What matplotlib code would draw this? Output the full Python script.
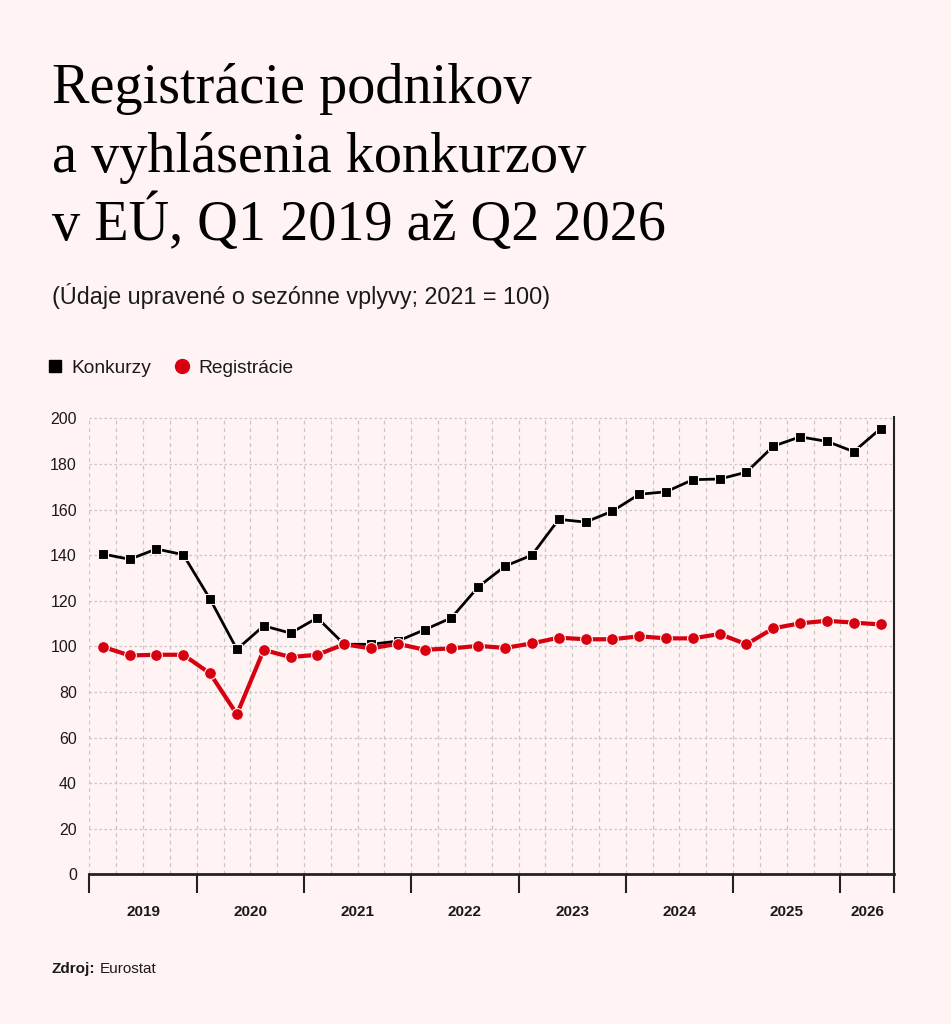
import matplotlib
matplotlib.use("Agg")
import matplotlib.pyplot as plt
from matplotlib.lines import Line2D
import numpy as np

# ---- data ----
quarters = [f"Q{q} {y}" for y in range(2019, 2027) for q in range(1, 5)][:30]
konkurzy = [140.5, 138.2, 142.7, 140.2, 120.7, 98.7, 109.0, 105.8,
            112.5, 100.9, 100.9, 102.3, 107.3, 112.5, 126.1, 135.2,
            140.0, 155.7, 154.5, 159.3, 166.7, 167.8, 173.1, 173.4,
            176.4, 187.8, 191.9, 189.9, 185.4, 195.5]
registracie = [99.8, 96.0, 96.3, 96.3, 88.1, 70.2, 98.4, 95.3,
               96.3, 100.9, 99.1, 101.1, 98.5, 99.1, 100.2, 99.3,
               101.3, 103.8, 103.1, 103.1, 104.4, 103.5, 103.5, 105.4,
               100.9, 107.9, 110.1, 111.2, 110.4, 109.6]
years = ["2019", "2020", "2021", "2022", "2023", "2024", "2025", "2026"]
y_ticks = [0, 20, 40, 60, 80, 100, 120, 140, 160, 180, 200]

title_lines = ["Registrácie podnikov", "a vyhlásenia konkurzov", "v EÚ, Q1 2019 až Q2 2026"]
subtitle = "(Údaje upravené o sezónne vplyvy; 2021 = 100)"
series_names = ["Konkurzy", "Registrácie"]

BG = "#fff3f3"
BLACK = "#000000"
RED = "#d7000f"
GRID = "#c9c6c6"
TXT = "#1a1a1a"

W, H = 951, 1024
fig = plt.figure(figsize=(W / 100, H / 100), dpi=100, facecolor=BG)

ax_left, ax_right = 89.4 / W, 894 / W
ax_bottom, ax_top = 1 - 874.3 / H, 1 - 417 / H
ax = fig.add_axes([ax_left, ax_bottom, ax_right - ax_left, ax_top - ax_bottom])
ax.set_facecolor(BG)

n = len(konkurzy)
x = np.arange(n) + 0.5

ax.set_xlim(0, n)
ax.set_ylim(0, 200.6)

# grid
for q in range(0, n):
    ax.axvline(q, color=GRID, lw=0.9, ls=(0, (3, 3)), zorder=0)
for yv in y_ticks[1:]:
    ax.axhline(yv, color=GRID, lw=0.9, ls=(0, (2, 2)), zorder=0)

ax.plot(x, konkurzy, color=BLACK, lw=2.0, marker="s", ms=7.5,
        mfc=BLACK, mec=BG, mew=0.8, zorder=3)
ax.plot(x, registracie, color=RED, lw=3.0, marker="o", ms=8.5,
        mfc=RED, mec=BG, mew=0.8, zorder=4)

# spines
for s in ["top", "left"]:
    ax.spines[s].set_visible(False)
ax.spines["bottom"].set_color("#222222")
ax.spines["bottom"].set_linewidth(2.0)
ax.spines["right"].set_color("#222222")
ax.spines["right"].set_linewidth(1.5)

# y ticks
ax.set_yticks(y_ticks)
ax.set_yticklabels([str(v) for v in y_ticks], fontsize=11.5, color=TXT,
                   family="Liberation Sans")
ax.tick_params(axis="y", length=0, pad=9)

# x ticks: year boundaries (major) and year labels (minor)
boundaries = list(range(0, n, 4)) + [n]
ax.set_xticks(boundaries)
ax.set_xticklabels([""] * len(boundaries))
ax.tick_params(axis="x", which="major", length=14, width=1.5, color="#222222")
label_pos = [min(b + 2, (b + n) / 2) for b in range(0, n, 4)]
ax.set_xticks(label_pos, minor=True)
ax.set_xticklabels(years, minor=True, fontsize=11, fontweight="bold",
                   color=TXT, family="Liberation Sans")
ax.tick_params(axis="x", which="minor", length=0, pad=22)

# titles
base = [103, 172, 240]
for line, b in zip(title_lines, base):
    fig.text(52 / W, 1 - b / H, line, family="Liberation Serif", fontsize=40.5,
             color=BLACK, va="baseline", ha="left")
fig.text(52 / W, 1 - 304 / H, subtitle, family="Liberation Sans", fontsize=16.8,
         color=TXT, va="baseline", ha="left")

# legend
handles = [Line2D([], [], ls="none", marker="s", ms=9, mfc=BLACK, mec=BLACK),
           Line2D([], [], ls="none", marker="o", ms=10, mfc=RED, mec=RED)]
leg = fig.legend(handles, series_names, loc="center left",
                 bbox_to_anchor=(31 / W, 1 - 368 / H), frameon=False, ncol=2,
                 handlelength=0.7, handletextpad=0.5, columnspacing=1.28,
                 prop={"family": "Liberation Sans", "size": 13.8})
for t in leg.get_texts():
    t.set_color(TXT)

# source
fig.text(52 / W, 1 - 973 / H, "Zdroj:", family="Liberation Sans", fontsize=11,
         fontweight="bold", color=TXT, va="baseline", ha="left")
fig.text(100 / W, 1 - 973 / H, "Eurostat", family="Liberation Sans", fontsize=11,
         color=TXT, va="baseline", ha="left")

fig.savefig("out.png", dpi=100, facecolor=BG)
